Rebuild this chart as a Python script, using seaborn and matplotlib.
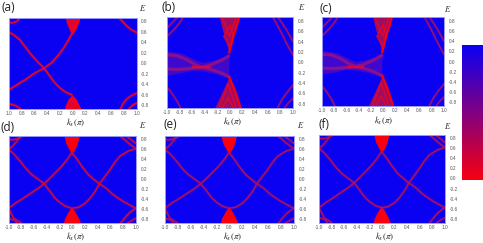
import matplotlib
matplotlib.use('Agg')
import matplotlib.pyplot as plt
from matplotlib.colors import LinearSegmentedColormap
from matplotlib.cm import ScalarMappable
import seaborn as sns

W, H = 483, 243
BLUE = '#0a00f2'

# tick labels
x_ticks = [-1.0, -0.8, -0.6, -0.4, -0.2, 0.0, 0.2, 0.4, 0.6, 0.8, 1.0]
y_ticks = [0.8, 0.6, 0.4, 0.2, 0.0, -0.2, -0.4, -0.6, -0.8]
x_labels = ['-1.0', '-0.8', '-0.6', '-0.4', '-0.2', '0.0', '0.2', '0.4', '0.6', '0.8', '1.0']
y_labels = ['0.8', '0.6', '0.4', '0.2', '0.0', '-0.2', '-0.4', '-0.6', '-0.8']

# panel (a) bands
a_bands = [
    ([-1, -0.932, -0.827, -0.748, -0.669, -0.564, -0.449, -0.354, -0.276, -0.197, -0.118, -0.013],
     [0.592, 0.548, 0.446, 0.318, 0.191, 0.045, -0.096, -0.255, -0.382, -0.478, -0.548, -0.605]),
    ([-1, -0.879, -0.748, -0.617, -0.449, -0.328, -0.223, -0.144, -0.066, -0.013],
     [-0.51, -0.414, -0.318, -0.204, -0.096, 0.013, 0.159, 0.287, 0.446, 0.573]),
    ([-1, -0.95, -0.88, -0.82], [0.78, 0.77, 0.8, 0.875]),
    ([0.72, 0.78, 0.84, 0.92, 1], [0.875, 0.8, 0.72, 0.64, 0.59]),
    ([-1, -0.95, -0.88, -0.82], [-0.78, -0.79, -0.82, -0.875]),
    ([0.75, 0.79, 0.85, 0.92, 1], [-0.875, -0.77, -0.68, -0.62, -0.57]),
    ([0.88, 0.93, 1], [-0.875, -0.81, -0.76]),
]
a_top = ([-0.118, -0.1, -0.06, -0.01, 0.05, 0.09, 0.118], [0.875, 0.78, 0.66, 0.54, 0.66, 0.78, 0.875])
a_bot = ([-0.13, -0.115, -0.07, -0.01, 0.05, 0.1, 0.13], [-0.875, -0.8, -0.68, -0.6, -0.68, -0.8, -0.875])
a_inner = [
    ([-0.07, -0.01, 0.06], [0.875, 0.72, 0.875]),
    ([-0.07, -0.01, 0.06], [-0.875, -0.74, -0.875]),
]

# panels (b) and (c)
b_bands = [
    ([-1, -0.94, -0.87, -0.8, -0.74], [0.5, 0.57, 0.66, 0.76, 0.875]),
    ([-1, -0.9, -0.83], [0.66, 0.79, 0.875]),
    ([0.68, 0.75, 0.815, 0.9, 1], [0.875, 0.72, 0.57, 0.36, 0.14]),
    ([0.76, 0.83, 0.895, 1], [0.875, 0.75, 0.63, 0.4]),
    ([-1, -0.95, -0.9, -0.84, -0.79], [-0.49, -0.55, -0.64, -0.75, -0.875]),
    ([0.76, 0.82, 0.895, 1], [-0.875, -0.73, -0.6, -0.44]),
    ([0.87, 0.93, 1], [-0.875, -0.78, -0.7]),
]
b_haze_k = [-1, -0.75, -0.6, -0.45, -0.3, -0.15, -0.02]
b_haze_up = [0.22, 0.17, 0.08, 0.0, 0.03, 0.08, 0.12]
b_haze_lo = [-0.25, -0.2, -0.15, -0.17, -0.2, -0.25, -0.3]
b_streak_k = [-1, -0.85, -0.7, -0.55, -0.45, -0.3, -0.15, -0.02]
b_streak_up = [0.14, 0.13, 0.06, -0.05, -0.1, -0.05, 0.03, 0.12]
b_streak_lo = [-0.13, -0.14, -0.13, -0.11, -0.1, -0.14, -0.2, -0.28]
b_core = ([-0.58, -0.45, -0.32], [-0.1, -0.1, -0.1])
b_top = ([-0.17, -0.13, -0.09, -0.013, 0.05, 0.1, 0.145], [0.875, 0.68, 0.5, 0.18, 0.5, 0.68, 0.875])
b_bot = ([-0.24, -0.19, -0.135, -0.013, 0.076, 0.125, 0.166], [-0.875, -0.74, -0.6, -0.28, -0.54, -0.72, -0.875])
b_lattice = [
    ([-0.13, -0.01, 0.1], [0.875, 0.5, 0.875]),
    ([-0.1, 0.0, 0.06], [0.5, 0.3, 0.5]),
    ([-0.09, 0.0, 0.05], [0.5, 0.72, 0.5]),
    ([-0.17, -0.03, 0.1], [-0.875, -0.42, -0.875]),
    ([-0.12, -0.03, 0.05], [-0.875, -0.68, -0.875]),
]
b_edge = ([-0.013, 0.05, 0.1, 0.145], [0.18, 0.5, 0.68, 0.875])
b_edge_lo = ([-0.013, 0.076, 0.125, 0.166], [-0.28, -0.54, -0.72, -0.875])

# panels (d), (e), (f)
d_bands = [
    ([-1, -0.92, -0.817, -0.723, -0.634, -0.54, -0.441, -0.347, -0.269, -0.191, -0.112, -0.008],
     [0.6, 0.514, 0.365, 0.209, 0.095, 0.007, -0.088, -0.243, -0.378, -0.466, -0.534, -0.581]),
    ([-1, -0.896, -0.791, -0.634, -0.53, -0.441, -0.347, -0.243, -0.164, -0.086, -0.008],
     [-0.581, -0.48, -0.399, -0.264, -0.176, -0.088, 0.027, 0.162, 0.264, 0.385, 0.534]),
    ([-0.008, 0.06, 0.149, 0.253, 0.332, 0.426, 0.53, 0.645, 0.802, 1],
     [0.534, 0.432, 0.264, 0.095, 0.007, -0.088, -0.176, -0.311, -0.446, -0.581]),
    ([-0.008, 0.097, 0.201, 0.279, 0.358, 0.426, 0.514, 0.593, 0.671, 0.749, 0.88, 1],
     [-0.581, -0.561, -0.48, -0.378, -0.243, -0.088, 0.061, 0.196, 0.345, 0.466, 0.568, 0.615]),
    ([-1, -0.93, -0.87, -0.76], [0.8, 0.79, 0.81, 0.875]),
    ([-1, -0.94, -0.87, -0.8], [0.6, 0.66, 0.76, 0.875]),
    ([0.74, 0.8, 0.87, 0.94, 1], [0.875, 0.82, 0.74, 0.67, 0.615]),
    ([0.84, 0.92, 1], [0.875, 0.8, 0.72]),
    ([-1, -0.96, -0.92, -0.87, -0.8], [-0.58, -0.68, -0.78, -0.82, -0.875]),
    ([-1, -0.9, -0.87], [-0.78, -0.82, -0.875]),
    ([0.76, 0.82, 0.89, 0.95, 1], [-0.875, -0.78, -0.68, -0.62, -0.58]),
    ([0.87, 0.94, 1], [-0.875, -0.82, -0.78]),
]
d_top = ([-0.13, -0.1, -0.05, -0.01, 0.04, 0.08, 0.11], [0.875, 0.72, 0.6, 0.5, 0.6, 0.72, 0.875])
d_bot = ([-0.14, -0.12, -0.07, -0.03, 0.01, 0.05, 0.1, 0.13],
         [-0.875, -0.78, -0.66, -0.58, -0.58, -0.66, -0.78, -0.875])

# colorbar end colours, bottom and top of the strip
cbar_colors = [(0.97, 0.0, 0.06), (0.04, 0.0, 0.95)]

sns.set_theme(style='white')
plt.rcParams['font.family'] = ['Liberation Sans', 'DejaVu Sans']
plt.rcParams['mathtext.fontset'] = 'stix'


def make_axes(fig, left, top, right, bottom):
    ax = fig.add_axes([left / W, 1 - bottom / H, (right - left) / W, (bottom - top) / H])
    ax.set_facecolor(BLUE)
    ax.set_xlim(-1, 1)
    ax.set_ylim(-0.875, 0.875)
    ax.set_xticks(x_ticks, x_labels)
    ax.yaxis.tick_right()
    ax.set_yticks(y_ticks, y_labels)
    ax.tick_params(axis='x', length=0, labelsize=3.4, labelcolor='#555555', pad=1.6)
    ax.tick_params(axis='y', length=0, labelsize=3.4, labelcolor='#555555', pad=3.4)
    for s in ax.spines.values():
        s.set_color('#9a9aff')
        s.set_linewidth(0.7)
    return ax


def draw_bands(ax, bands, color, lw=1.5):
    for k, e in bands:
        sns.lineplot(x=k, y=e, sort=False, estimator=None, color=color, lw=lw + 1.0, alpha=0.3, ax=ax)
        sns.lineplot(x=k, y=e, sort=False, estimator=None, color=color, lw=lw, ax=ax)


fig = plt.figure(figsize=(W / 100, H / 100), dpi=100)

# panel (a)
ax = make_axes(fig, 9, 17.5, 136.5, 109)
ax.set_xticks(x_ticks, [s.lstrip('-') for s in x_labels])
draw_bands(ax, a_bands, '#e0082a', 1.2)
for k, e in (a_top, a_bot):
    ax.fill_between(k, e, [e[0]] * len(e), color='#f5001c', lw=0)
draw_bands(ax, a_inner, '#b80c58', 0.5)

# panels (b), (c)
for box in [(167, 17, 293, 107.5), (322, 17, 444, 106)]:
    ax = make_axes(fig, *box)
    ax.fill_between(b_haze_k, b_haze_lo, b_haze_up, color='#6a10b0', alpha=0.55, lw=0)
    draw_bands(ax, [(b_streak_k, b_streak_up), (b_streak_k, b_streak_lo)], '#8a1090', 2.0)
    draw_bands(ax, [b_core], '#d0084a', 1.6)
    draw_bands(ax, b_bands, '#a01070', 1.0)
    for k, e in (b_top, b_bot):
        ax.fill_between(k, e, [e[0]] * len(e), color='#a00c60', lw=0)
    draw_bands(ax, b_lattice, '#e00830', 0.7)
    draw_bands(ax, [b_edge, b_edge_lo], '#fa0010', 1.3)

# panels (d), (e), (f)
for box, col in [((8.5, 135.7, 136, 223), '#c80c40'),
                 ((164.7, 135.7, 294, 223), '#a81060'),
                 ((319, 134.5, 445, 222.5), '#a81060')]:
    ax = make_axes(fig, *box)
    draw_bands(ax, d_bands, col, 1.1)
    for k, e in (d_top, d_bot):
        ax.fill_between(k, e, [e[0]] * len(e), color='#f8000f', lw=0)

# colour strip without ticks
cmap = LinearSegmentedColormap.from_list('rb', cbar_colors)
cax = fig.add_axes([461.7 / W, 1 - 180 / H, 21.3 / W, 135 / H])
cb = fig.colorbar(ScalarMappable(cmap=cmap), cax=cax, ticks=[])
cb.outline.set_visible(False)

# panel letters and axis titles
for s, x, y in [('(a)', 8, 7.5), ('(b)', 169, 7.5), ('(c)', 326, 8),
                ('(d)', 7.5, 127.5), ('(e)', 170, 125), ('(f)', 324, 124)]:
    fig.text(x / W, 1 - y / H, s, fontsize=8.5, color='#222222', ha='center', va='center',
             family=['Open Sans', 'DejaVu Sans'])
for x, y in [(142.7, 8), (301.7, 6.7), (448, 9), (143, 125), (300.7, 125), (448, 125.7)]:
    fig.text(x / W, 1 - y / H, '$E$', fontsize=6, color='#222222', ha='center', va='center')
for x, y in [(76, 122.5), (232.7, 122), (384, 121), (76, 237), (232.7, 236.7), (384.7, 236.7)]:
    fig.text(x / W, 1 - y / H, r'$k_x(\pi)$', fontsize=6.5, color='#222222', ha='center', va='center')

plt.savefig('out.png', dpi=100)
